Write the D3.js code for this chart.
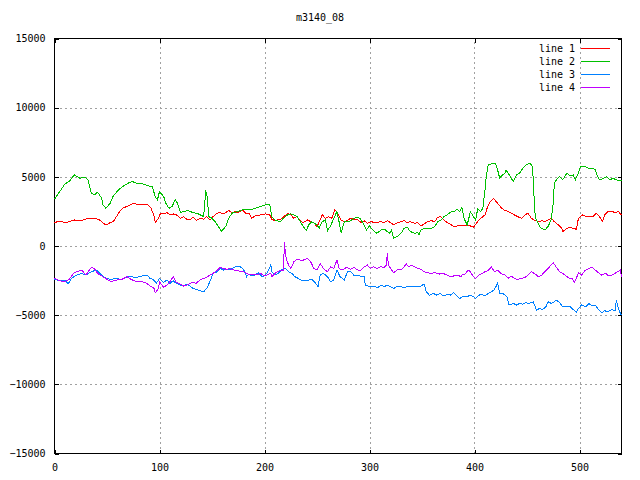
<!DOCTYPE html>
<html>
<head>
<meta charset="utf-8">
<script src="https://cdn.jsdelivr.net/npm/d3@7"></script>
<style>
  body { margin: 0; background: #fff; }
  text { font-family: "DejaVu Sans Mono", "Liberation Mono", monospace; font-size: 10px; fill: #000; }
</style>
</head>
<body>
<div id="chart"></div>
<script>
const title = "m3140_08";
const seriesNames = ["line 1", "line 2", "line 3", "line 4"];
const seriesColors = ["#ff0000", "#00c000", "#0080ff", "#c000ff"];
const xTicks = [0, 100, 200, 300, 400, 500];
const yTicks = [-15000, -10000, -5000, 0, 5000, 10000, 15000];

// [x, value] pairs
const line1 = [[0,1690],[5,1810],[10,1690],[14,1760],[19,1880],[24,1810],[29,1930],[33,2005],[38,2005],[43,1880],[46,1690],[49,1520],[53,1690],[56,1760],[59,2125],[62,2490],[65,2730],[70,2900],[75,3090],[80,2970],[84,2970],[89,2990],[92,2730],[95,2125],[96,1690],[99,2005],[101,2370],[104,2320],[107,2415],[110,2250],[113,2320],[116,2250],[120,2005],[123,2125],[126,1930],[129,1880],[132,2080],[135,1860],[139,2005],[142,1930],[145,2125],[148,1880],[151,2125],[155,2370],[158,2415],[161,2320],[166,2560],[169,2415],[172,2490],[175,2415],[179,2610],[182,2370],[185,2370],[188,2005],[191,2175],[196,2250],[201,2320],[205,2250],[207,1930],[210,1830],[215,1930],[218,2080],[222,2370],[225,2250],[228,2005],[231,2125],[234,1830],[237,1690],[241,1880],[244,1760],[247,1690],[250,1400],[253,1880],[255,2250],[258,2005],[261,2125],[264,2005],[267,2610],[269,2490],[273,1880],[276,1760],[279,1830],[282,2005],[285,1930],[289,1880],[292,1690],[295,1830],[298,1640],[301,1760],[306,1690],[311,1760],[314,1690],[317,1830],[320,1690],[323,1520],[327,1690],[330,1760],[333,1830],[336,1690],[339,1760],[343,1640],[346,1690],[349,1450],[352,1590],[355,1760],[359,1830],[362,1760],[365,2080],[368,2125],[371,1880],[374,1690],[378,1520],[381,1400],[384,1450],[387,1520],[390,1450],[393,1520],[396,1450],[399,1350],[403,1760],[406,2005],[410,2250],[412,2730],[414,3090],[418,3450],[422,3090],[425,2800],[428,2610],[432,2490],[435,2370],[438,2250],[441,2125],[445,2005],[448,2250],[451,2370],[454,2005],[457,1880],[461,1760],[464,1830],[467,1760],[470,1880],[473,2005],[476,1760],[480,1520],[483,1280],[484,1040],[488,1280],[491,1350],[494,1280],[497,1210],[499,2005],[503,2250],[506,2125],[509,2170],[513,2125],[516,2370],[519,2125],[522,1760],[524,2250],[527,2490],[531,2490],[534,2420],[537,2490],[540,2250]];

const line2 = [[0,3380],[5,3935],[10,4490],[14,4660],[19,5145],[24,4900],[29,4975],[32,4780],[35,3820],[38,3695],[41,3890],[45,3455],[46,2970],[49,2730],[53,3090],[56,3620],[61,4060],[65,4300],[70,4540],[74,4660],[80,4490],[84,4490],[89,4350],[93,4300],[96,3575],[98,3330],[100,3935],[104,3575],[106,3090],[109,2730],[112,2850],[115,3380],[117,3090],[120,2415],[123,2490],[127,2560],[132,2415],[137,2320],[142,2125],[144,3935],[145,3820],[147,2125],[150,2005],[153,1760],[156,1400],[159,1085],[163,1400],[166,2005],[169,2370],[174,2490],[179,2610],[183,2660],[186,2610],[191,2730],[196,2850],[201,2970],[205,2970],[207,2125],[210,1880],[215,1760],[218,2005],[222,2250],[225,2320],[228,2250],[231,2125],[234,1760],[237,1400],[240,1110],[242,1520],[245,1760],[250,1520],[252,1280],[255,1760],[258,1880],[260,1110],[263,1470],[266,2005],[269,2490],[271,1760],[273,970],[276,1760],[280,1760],[284,1930],[287,2080],[291,2005],[294,1640],[297,1160],[300,1470],[303,1160],[307,920],[311,1160],[315,1160],[317,1040],[319,900],[321,1160],[323,555],[327,720],[330,920],[333,1280],[336,1350],[339,1040],[343,920],[346,965],[347,800],[349,1160],[352,1280],[355,1280],[359,1280],[362,1400],[365,1760],[368,1880],[371,2125],[374,2250],[378,2490],[381,2490],[383,2660],[386,2490],[388,2800],[390,2005],[393,1520],[395,2125],[396,2490],[399,2125],[401,1880],[403,2660],[406,2490],[408,2730],[410,4060],[411,4900],[413,5870],[417,5950],[420,5990],[422,5500],[424,4900],[425,5025],[429,5265],[430,5507],[434,5025],[437,4660],[440,5145],[443,5265],[446,5630],[449,5870],[453,5990],[455,5750],[456,4780],[457,3090],[458,2005],[460,1760],[462,1400],[464,1280],[467,1160],[470,1400],[473,1880],[475,3090],[476,4540],[479,4900],[481,5025],[484,4780],[488,5265],[491,5072],[494,5145],[496,4780],[499,5265],[501,5750],[505,5750],[508,5630],[512,5630],[515,5507],[517,5072],[519,4780],[523,4900],[526,5025],[529,4780],[532,4900],[535,4780],[539,4730],[540,4730]];

const line3 = [[0,-2415],[5,-2510],[10,-2460],[13,-2750],[16,-2340],[21,-2100],[26,-1980],[30,-2100],[35,-1860],[40,-1740],[45,-2100],[49,-2340],[54,-2415],[59,-2340],[64,-2460],[69,-2220],[73,-2220],[78,-2270],[83,-2170],[88,-2100],[91,-2340],[94,-2415],[97,-2700],[100,-2340],[104,-2630],[107,-2460],[110,-2700],[113,-2510],[116,-2700],[120,-2820],[123,-2900],[126,-2750],[129,-2900],[132,-3070],[135,-3140],[139,-3240],[142,-3310],[145,-3070],[148,-2580],[151,-1980],[155,-1860],[158,-1620],[161,-1740],[164,-1690],[167,-1740],[171,-1545],[174,-1450],[177,-1500],[180,-1690],[183,-2220],[185,-2030],[188,-2170],[191,-2100],[194,-1930],[198,-2220],[201,-2100],[204,-1740],[206,-1380],[207,-1860],[210,-2100],[213,-1980],[216,-1740],[220,-1620],[223,-1860],[226,-1980],[229,-2220],[232,-2340],[236,-2510],[239,-2460],[242,-2460],[245,-2415],[248,-2630],[251,-2945],[253,-2100],[256,-1980],[260,-2220],[263,-2580],[266,-2460],[269,-1740],[272,-2220],[276,-2460],[279,-1860],[282,-1860],[285,-2100],[289,-2100],[292,-2220],[295,-2220],[296,-2820],[300,-2945],[305,-2945],[308,-3000],[311,-2820],[314,-2945],[317,-2820],[320,-2945],[323,-3070],[327,-2900],[330,-2945],[333,-3000],[336,-2945],[339,-2945],[343,-2900],[346,-2945],[349,-2900],[352,-2750],[354,-3310],[357,-3550],[361,-3430],[364,-3550],[367,-3430],[371,-3620],[374,-3480],[377,-3550],[380,-3380],[384,-3670],[386,-3790],[390,-3620],[393,-3670],[396,-3550],[399,-3670],[401,-3790],[403,-3620],[406,-3480],[410,-3620],[413,-3430],[416,-3310],[419,-3140],[422,-2700],[424,-3430],[427,-3430],[429,-3550],[431,-3670],[433,-4270],[437,-4150],[440,-4270],[443,-4150],[446,-4200],[449,-4100],[452,-4150],[456,-4030],[459,-4640],[462,-4510],[465,-4590],[468,-4390],[470,-4030],[473,-4150],[476,-4030],[478,-3910],[481,-4100],[484,-4390],[488,-4340],[491,-4390],[494,-4590],[497,-4760],[499,-4510],[502,-4270],[506,-4390],[509,-4150],[512,-4340],[515,-4270],[518,-4590],[521,-4830],[524,-4680],[527,-4760],[531,-4590],[534,-4680],[535,-3910],[537,-4510],[539,-4880],[540,-5000]];

const line4 = [[0,-2340],[5,-2510],[10,-2580],[14,-2415],[18,-1980],[21,-1860],[26,-1740],[30,-2100],[35,-1545],[38,-1620],[41,-1980],[46,-2220],[51,-2460],[54,-2580],[59,-2460],[64,-2415],[69,-2220],[73,-2415],[78,-2580],[83,-2580],[88,-2700],[91,-2900],[95,-3070],[96,-3380],[99,-3070],[100,-2580],[104,-2990],[107,-2820],[110,-2580],[113,-2220],[116,-2630],[120,-2750],[123,-2900],[126,-2820],[129,-2700],[132,-2630],[135,-2700],[139,-2415],[142,-2340],[145,-2270],[148,-2100],[151,-1980],[155,-1740],[158,-1545],[161,-1620],[164,-1690],[167,-1620],[171,-1740],[174,-1740],[177,-1860],[180,-1860],[183,-1980],[186,-2100],[189,-2030],[192,-2100],[196,-1980],[199,-2100],[202,-2100],[206,-1980],[207,-2220],[210,-1980],[215,-1740],[218,-1740],[219,250],[220,-600],[221,-1015],[223,-1380],[225,-1620],[228,-1140],[231,-970],[234,-1015],[237,-1015],[241,-890],[244,-1140],[247,-1620],[250,-1740],[253,-1260],[256,-1620],[260,-1860],[263,-1500],[266,-1620],[269,-1015],[271,-1620],[274,-1740],[278,-1545],[282,-1690],[285,-1545],[289,-1740],[292,-1740],[295,-1500],[298,-1380],[301,-1620],[304,-1500],[307,-1620],[311,-1500],[314,-1545],[316,-1380],[317,-530],[318,-1380],[320,-1620],[323,-1930],[327,-1690],[330,-1740],[333,-1500],[335,-1300],[337,-1500],[340,-1380],[343,-1500],[346,-1620],[349,-1690],[352,-1860],[355,-1930],[359,-1980],[362,-1930],[367,-2030],[370,-1980],[374,-2100],[377,-2220],[380,-2170],[384,-2100],[387,-2220],[388,-2100],[391,-2030],[394,-1740],[396,-1860],[399,-2220],[401,-2340],[403,-2170],[406,-2030],[410,-1860],[413,-1790],[416,-1500],[419,-1860],[422,-1740],[425,-1980],[429,-2100],[432,-2340],[435,-2170],[438,-2340],[441,-2420],[445,-2340],[448,-2270],[451,-2100],[454,-1860],[457,-1980],[461,-2220],[464,-2100],[467,-1860],[470,-1620],[473,-1380],[475,-1210],[478,-1545],[481,-1860],[484,-1980],[488,-2220],[491,-2340],[493,-2340],[495,-2650],[497,-2340],[499,-1930],[502,-2100],[505,-1790],[509,-1620],[512,-1545],[515,-1740],[518,-1930],[521,-2100],[525,-1980],[528,-2170],[531,-2100],[534,-1980],[536,-1860],[539,-1740],[540,-2220]];

const allSeries = [line1, line2, line3, line4];

const width = 640;
const height = 480;
const margin = { top: 38.5, right: 18.5, bottom: 26.5, left: 54.5 };

const svg = d3.select("#chart").append("svg")
    .attr("width", width)
    .attr("height", height);

const x = d3.scaleLinear().domain([0, 540]).range([margin.left, width - margin.right]);
const y = d3.scaleLinear().domain([-15000, 15000]).range([height - margin.bottom, margin.top]);

// dashed grid
const grid = svg.append("g")
    .attr("stroke", "#a0a0a0")
    .attr("stroke-width", 1)
    .attr("stroke-dasharray", "2,3")
    .attr("shape-rendering", "crispEdges");

grid.selectAll(".gx")
    .data(xTicks.filter(d => d > 0))
    .enter().append("line")
    .attr("x1", d => Math.round(x(d)) + 0.5)
    .attr("x2", d => Math.round(x(d)) + 0.5)
    .attr("y1", y(-15000))
    .attr("y2", y(15000));

grid.selectAll(".gy")
    .data(yTicks.filter(d => d > -15000 && d < 15000))
    .enter().append("line")
    .attr("x1", x(0))
    .attr("x2", x(540))
    .attr("y1", d => Math.round(y(d)) + 0.5)
    .attr("y2", d => Math.round(y(d)) + 0.5);

// axes, ticks pointing inward like gnuplot
svg.append("g")
    .attr("transform", `translate(0,${y(-15000)})`)
    .call(d3.axisBottom(x).tickValues(xTicks).tickSize(-4).tickPadding(10).tickFormat(d3.format("d")))
    .call(g => g.select(".domain").remove());

svg.append("g")
    .attr("transform", `translate(0,${y(15000)})`)
    .call(d3.axisTop(x).tickValues(xTicks).tickSize(-4).tickFormat(""))
    .call(g => g.select(".domain").remove());

svg.append("g")
    .attr("transform", `translate(${x(0)},0)`)
    .call(d3.axisLeft(y).tickValues(yTicks).tickSize(-4).tickPadding(9).tickFormat(d3.format("d")))
    .call(g => g.select(".domain").remove());

svg.append("g")
    .attr("transform", `translate(${x(540)},0)`)
    .call(d3.axisRight(y).tickValues(yTicks).tickSize(-4).tickFormat(""))
    .call(g => g.select(".domain").remove());

svg.selectAll(".tick text")
    .attr("font-family", "DejaVu Sans Mono, monospace")
    .attr("font-size", 10);

svg.selectAll(".tick line")
    .attr("shape-rendering", "crispEdges");

svg.append("rect")
    .attr("x", x(0))
    .attr("y", y(15000))
    .attr("width", x(540) - x(0))
    .attr("height", y(-15000) - y(15000))
    .attr("fill", "none")
    .attr("stroke", "#000")
    .attr("shape-rendering", "crispEdges");

// series, drawn aliased like the gd terminal
const line = d3.line()
    .x(d => x(d[0]))
    .y(d => y(d[1]));

svg.selectAll(".series")
    .data(allSeries)
    .enter().append("path")
    .attr("class", "series")
    .attr("fill", "none")
    .attr("stroke", (d, i) => seriesColors[i])
    .attr("stroke-width", 1)
    .attr("shape-rendering", "crispEdges")
    .attr("d", line);

// legend
const legend = svg.append("g");
seriesNames.forEach((name, i) => {
    const ly = 48.5 + i * 13;
    legend.append("text")
        .attr("x", 575)
        .attr("y", ly)
        .attr("dy", "0.35em")
        .attr("text-anchor", "end")
        .text(name);
    legend.append("line")
        .attr("x1", 581)
        .attr("x2", 610)
        .attr("y1", ly)
        .attr("y2", ly)
        .attr("stroke", seriesColors[i])
        .attr("stroke-width", 1)
        .attr("shape-rendering", "crispEdges");
});

svg.append("text")
    .attr("x", width / 2)
    .attr("y", 17)
    .attr("dy", "0.35em")
    .attr("text-anchor", "middle")
    .text(title);
</script>
</body>
</html>
